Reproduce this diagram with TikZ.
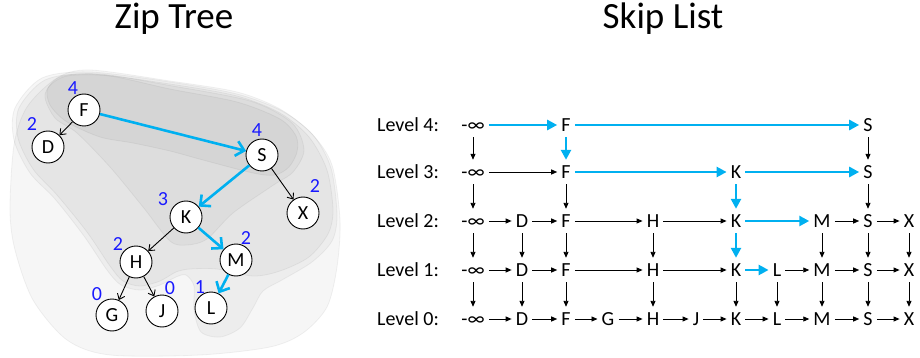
\documentclass[tikz,border=0pt]{standalone}
\usepackage{fontspec}
\setmainfont{Carlito}
\usepackage{xcolor}
\usepackage{tikz}
\usetikzlibrary{arrows.meta}

\definecolor{pathblue}{RGB}{0,176,240}
\definecolor{rankblue}{RGB}{25,25,255}

\tikzset{
    zone/.style={fill=black, fill opacity=0.035, draw=black, draw opacity=0.05, line width=0.8pt},
    treenode/.style={circle, draw, line width=0.9pt, fill=white, minimum size=32pt, inner sep=0pt, font=\fontsize{20}{20}\selectfont},
    rank/.style={text=rankblue, inner sep=0pt, font=\fontsize{20}{20}\selectfont},
    treeedge/.style={-{Straight Barb[length=5pt,width=8pt]}, line width=0.9pt},
    treepath/.style={-{Straight Barb[length=8pt,width=15pt]}, line width=2.6pt, pathblue},
    cell/.style={inner xsep=4pt, inner ysep=5.5pt, text height=13pt, text depth=0pt, font=\fontsize{20}{20}\selectfont},
    link/.style={-{Triangle[length=6pt,width=5pt]}, line width=0.9pt},
    searchlink/.style={-{Triangle[length=10pt,width=10pt]}, line width=2.6pt, pathblue},
    title/.style={anchor=base, inner sep=0pt, font=\fontsize{37}{37}\selectfont}
}

\begin{document}
\begin{tikzpicture}[x=1pt, y=-1pt]
    \useasboundingbox (0,0) rectangle (920,358);

    % titles
    \node[title] (ziptitle) at (174,29) {Zip Tree};
    \node[title] (skiptitle) at (663,29) {Skip List};

    % rank zones of the zip tree, rank 0 up to rank 4
    \fill[zone] plot[smooth cycle] coordinates {(10,210) (14,145) (27,107) (57,78) (90,70) (170,81)
        (237,92) (280,109) (312,134) (332,165) (340,220) (337,267) (327,307) (303,333) (270,347)
        (200,355) (110,355) (67,340) (33,300) (15,250)};
    \fill[zone] plot[smooth cycle] coordinates {(15,108) (42,78) (90,72) (170,82) (237,94) (282,111)
        (313,135) (331,168) (337,215) (332,241) (312,262) (282,280) (263,291) (253,308) (240,328)
        (220,337) (201,332) (194,310) (194,286) (186,275) (176,277) (160,285) (140,290) (121,285)
        (107,270) (84,236) (55,199) (30,173) (14,140)};
    \fill[zone] plot[smooth cycle] coordinates {(19,108) (45,80) (90,74) (170,84) (237,96) (280,113)
        (309,137) (327,170) (333,210) (328,234) (309,257) (280,271) (253,276) (217,269) (190,269)
        (176,272) (160,281) (140,286) (123,281) (110,266) (87,232) (57,195) (33,169) (18,138)};
    \fill[zone] plot[smooth cycle] coordinates {(45,95) (60,77) (100,74) (167,85) (250,101) (292,123)
        (304,150) (293,172) (272,186) (233,213) (207,239) (187,245) (170,241) (143,207) (110,167)
        (77,133) (55,118)};
    \fill[zone] plot[smooth cycle] coordinates {(48,88) (67,76) (110,76) (170,89) (237,102) (280,119)
        (296,136) (297,152) (289,167) (275,175) (253,173) (203,160) (170,151) (133,143) (100,137)
        (67,122) (50,105)};

    % zip tree
    \node[treenode] (tF) at (84,110) {F};
    \node[treenode] (tD) at (48,147) {D};
    \node[treenode] (tS) at (262,155) {S};
    \node[treenode] (tX) at (303,213) {X};
    \node[treenode] (tK) at (186,217) {K};
    \node[treenode] (tH) at (136,262) {H};
    \node[treenode] (tM) at (236,260) {M};
    \node[treenode] (tG) at (112,315) {G};
    \node[treenode] (tJ) at (162,311) {J};
    \node[treenode] (tL) at (211,308) {L};

    \node[rank] (rF) at (73,88) {4};
    \node[rank] (rD) at (32,124) {2};
    \node[rank] (rS) at (257,130) {4};
    \node[rank] (rX) at (315,186) {2};
    \node[rank] (rK) at (163,199) {3};
    \node[rank] (rH) at (118,244) {2};
    \node[rank] (rM) at (246,238) {2};
    \node[rank] (rG) at (97,294) {0};
    \node[rank] (rJ) at (170,288) {0};
    \node[rank] (rL) at (200,287) {1};

    \draw[treeedge] (tF) -- (tD);
    \draw[treeedge] (tS) -- (tX);
    \draw[treeedge] (tK) -- (tH);
    \draw[treeedge] (tH) -- (tG);
    \draw[treeedge] (tH) -- (tJ);
    \draw[treepath] (tF) -- (tS);
    \draw[treepath] (tS) -- (tK);
    \draw[treepath] (tK) -- (tM);
    \draw[treepath] (tM) -- (tL);

    % skip list
    \node[cell, anchor=west] (lev4) at (373,125) {Level 4:};
    \node[cell, anchor=west] (lev3) at (373,172) {Level 3:};
    \node[cell, anchor=west] (lev2) at (373,221) {Level 2:};
    \node[cell, anchor=west] (lev1) at (373,270) {Level 1:};
    \node[cell, anchor=west] (lev0) at (373,319) {Level 0:};

    \node[cell] (s4inf) at (473,125) {-∞};
    \node[cell] (s4F) at (566,125) {F};
    \node[cell] (s4S) at (868,125) {S};

    \node[cell] (s3inf) at (473,172) {-∞};
    \node[cell] (s3F) at (566,172) {F};
    \node[cell] (s3K) at (736,172) {K};
    \node[cell] (s3S) at (868,172) {S};

    \node[cell] (s2inf) at (473,221) {-∞};
    \node[cell] (s2D) at (522,221) {D};
    \node[cell] (s2F) at (566,221) {F};
    \node[cell] (s2H) at (653,221) {H};
    \node[cell] (s2K) at (736,221) {K};
    \node[cell] (s2M) at (822,221) {M};
    \node[cell] (s2S) at (868,221) {S};
    \node[cell] (s2X) at (909,221) {X};

    \node[cell] (s1inf) at (473,270) {-∞};
    \node[cell] (s1D) at (522,270) {D};
    \node[cell] (s1F) at (566,270) {F};
    \node[cell] (s1H) at (653,270) {H};
    \node[cell] (s1K) at (736,270) {K};
    \node[cell] (s1L) at (777,270) {L};
    \node[cell] (s1M) at (822,270) {M};
    \node[cell] (s1S) at (868,270) {S};
    \node[cell] (s1X) at (909,270) {X};

    \node[cell] (s0inf) at (473,319) {-∞};
    \node[cell] (s0D) at (522,319) {D};
    \node[cell] (s0F) at (566,319) {F};
    \node[cell] (s0G) at (608,319) {G};
    \node[cell] (s0H) at (653,319) {H};
    \node[cell] (s0J) at (696,319) {J};
    \node[cell] (s0K) at (736,319) {K};
    \node[cell] (s0L) at (777,319) {L};
    \node[cell] (s0M) at (822,319) {M};
    \node[cell] (s0S) at (868,319) {S};
    \node[cell] (s0X) at (909,319) {X};

    % links along each level
    \draw[searchlink] (s4inf) -- (s4F);
    \draw[searchlink] (s4F) -- (s4S);

    \draw[link] (s3inf) -- (s3F);
    \draw[searchlink] (s3F) -- (s3K);
    \draw[searchlink] (s3K) -- (s3S);

    \draw[link] (s2inf) -- (s2D);
    \draw[link] (s2D) -- (s2F);
    \draw[link] (s2F) -- (s2H);
    \draw[link] (s2H) -- (s2K);
    \draw[searchlink] (s2K) -- (s2M);
    \draw[link] (s2M) -- (s2S);
    \draw[link] (s2S) -- (s2X);

    \draw[link] (s1inf) -- (s1D);
    \draw[link] (s1D) -- (s1F);
    \draw[link] (s1F) -- (s1H);
    \draw[link] (s1H) -- (s1K);
    \draw[searchlink] (s1K) -- (s1L);
    \draw[link] (s1L) -- (s1M);
    \draw[link] (s1M) -- (s1S);
    \draw[link] (s1S) -- (s1X);

    \draw[link] (s0inf) -- (s0D);
    \draw[link] (s0D) -- (s0F);
    \draw[link] (s0F) -- (s0G);
    \draw[link] (s0G) -- (s0H);
    \draw[link] (s0H) -- (s0J);
    \draw[link] (s0J) -- (s0K);
    \draw[link] (s0K) -- (s0L);
    \draw[link] (s0L) -- (s0M);
    \draw[link] (s0M) -- (s0S);
    \draw[link] (s0S) -- (s0X);

    % links down to the next level
    \draw[link] (s4inf) -- (s3inf);
    \draw[searchlink] (s4F) -- (s3F);
    \draw[link] (s4S) -- (s3S);

    \draw[link] (s3inf) -- (s2inf);
    \draw[link] (s3F) -- (s2F);
    \draw[searchlink] (s3K) -- (s2K);
    \draw[link] (s3S) -- (s2S);

    \draw[link] (s2inf) -- (s1inf);
    \draw[link] (s2D) -- (s1D);
    \draw[link] (s2F) -- (s1F);
    \draw[link] (s2H) -- (s1H);
    \draw[searchlink] (s2K) -- (s1K);
    \draw[link] (s2M) -- (s1M);
    \draw[link] (s2S) -- (s1S);
    \draw[link] (s2X) -- (s1X);

    \draw[link] (s1inf) -- (s0inf);
    \draw[link] (s1D) -- (s0D);
    \draw[link] (s1F) -- (s0F);
    \draw[link] (s1H) -- (s0H);
    \draw[link] (s1K) -- (s0K);
    \draw[link] (s1L) -- (s0L);
    \draw[link] (s1M) -- (s0M);
    \draw[link] (s1S) -- (s0S);
    \draw[link] (s1X) -- (s0X);
\end{tikzpicture}
\end{document}
